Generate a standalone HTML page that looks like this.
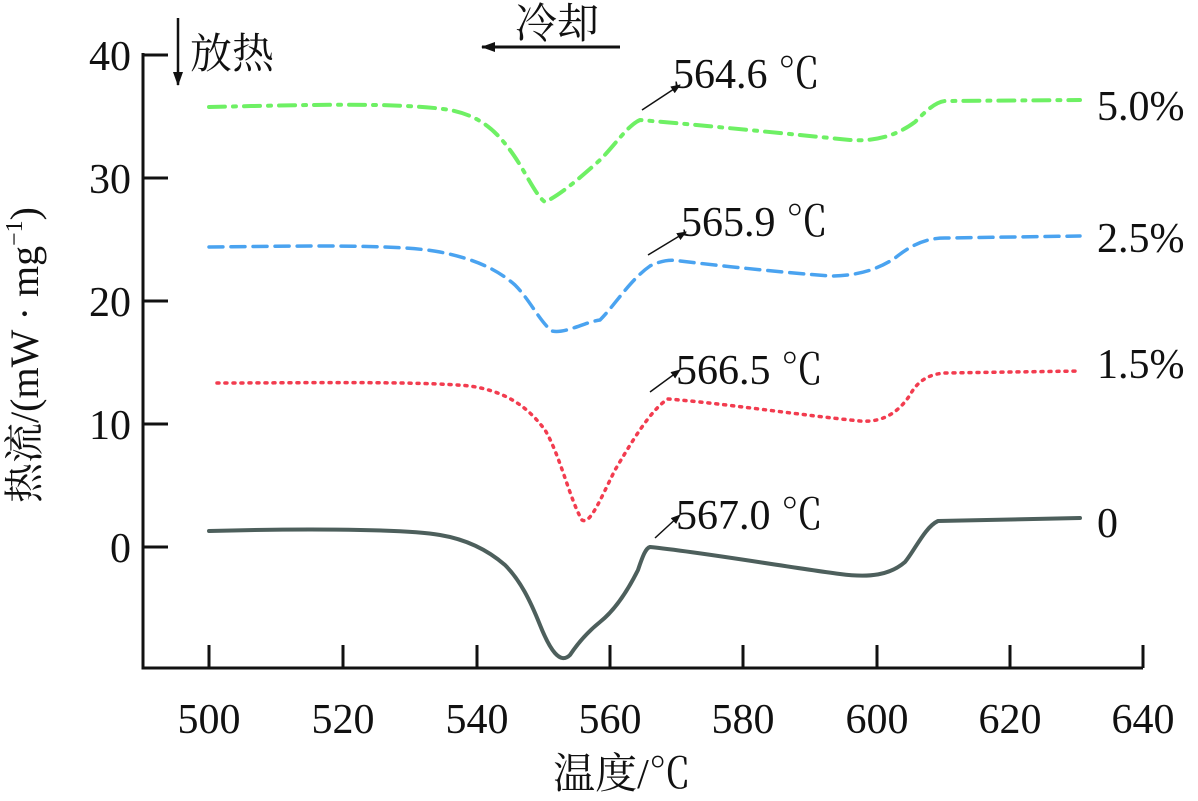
<!DOCTYPE html>
<html><head><meta charset="utf-8"><style>
body{margin:0;background:#fff}
svg text{font-family:"Liberation Serif","Times New Roman","Noto Serif CJK SC",serif;fill:#111}
</style></head><body>
<svg width="1198" height="796" viewBox="0 0 1198 796" xmlns="http://www.w3.org/2000/svg">
<defs><marker id="a" markerWidth="10" markerHeight="8" refX="9" refY="4" orient="auto" markerUnits="userSpaceOnUse"><path d="M0,0L10,4L0,8z" fill="#111"/></marker>
<marker id="b" markerWidth="14" markerHeight="10" refX="13" refY="5" orient="auto" markerUnits="userSpaceOnUse"><path d="M0,0L14,5L0,10z" fill="#111"/></marker></defs>
<g stroke="#111" stroke-width="3" fill="none">
<path d="M143,53V668H1143"/>
<path d="M143,55H168M143,178H168M143,301H168M143,424H168M143,547H168"/>
<path d="M209,668V645M343,668V645M477,668V645M610,668V645M743,668V645M877,668V645M1010,668V645M1143,668V645"/>
</g>
<g font-size="42" text-anchor="end">
<text x="131" y="70">40</text><text x="131" y="193">30</text><text x="131" y="316">20</text><text x="131" y="439">10</text><text x="131" y="562">0</text></g>
<g font-size="42" text-anchor="middle">
<text x="209" y="733">500</text><text x="343" y="733">520</text><text x="477" y="733">540</text><text x="610" y="733">560</text><text x="743" y="733">580</text><text x="877" y="733">600</text><text x="1010" y="733">620</text><text x="1143" y="733">640</text>
<text x="622" y="788">温度/℃</text></g>
<text font-size="40" text-anchor="middle" transform="translate(38,355) rotate(-90)">热流/(mW · mg<tspan font-size="24" dy="-16">−1</tspan><tspan dy="16">)</tspan></text>
<g fill="none" stroke-linejoin="round" stroke-linecap="round">
<path stroke="#4d5f5c" stroke-width="4" d="M209,531 C280,529 400,528 440,535 C470,540 490,552 505,565 C520,580 530,600 540,625 C550,650 560,665 570,655 C580,640 590,630 600,622 C615,610 628,590 638,570 C643,555 646,548 650,547 C700,552 780,566 840,574 C870,578 890,575 905,562 C915,550 925,527 938,521 L1080,518"/>
<path stroke="#f23c4f" stroke-width="3.5" stroke-dasharray="2,6" d="M217,383 C300,383 420,381 470,386 C510,392 530,410 545,430 C560,455 570,500 582,520 C590,525 600,500 615,470 C630,445 650,410 668,399 C720,403 800,415 860,421 C885,423 900,410 910,395 C918,380 930,374 945,373 L1080,371"/>
<path stroke="#4aa3f0" stroke-width="3.5" stroke-dasharray="14,8" d="M209,247 C300,246 400,244 440,252 C480,260 500,272 515,285 C530,300 540,322 552,331 C565,334 585,322 600,320 C615,305 630,280 650,266 C660,261 670,259 680,261 C730,267 790,273 830,276 C860,276 880,268 895,258 C910,246 925,238 945,238 L1080,236"/>
<path stroke="#6ef064" stroke-width="4" stroke-dasharray="16,8,3,8" d="M209,107 C300,105 400,102 450,110 C480,116 495,130 510,150 C525,170 535,195 545,202 C560,195 580,178 600,160 C615,145 628,125 640,120 C700,125 790,134 850,140 C880,142 900,133 915,122 C925,112 935,102 945,101 L1080,100"/>
</g>
<g stroke="#111" stroke-width="1.5">
<line x1="642" y1="110" x2="680" y2="85" marker-end="url(#a)"/>
<line x1="648" y1="255" x2="686" y2="232" marker-end="url(#a)"/>
<line x1="650" y1="392" x2="680" y2="370" marker-end="url(#a)"/>
<line x1="655" y1="538" x2="680" y2="515" marker-end="url(#a)"/>
<line x1="178" y1="18" x2="178" y2="85" stroke-width="2.5" marker-end="url(#b)"/>
<line x1="620" y1="47" x2="482" y2="47" stroke-width="3" marker-end="url(#b)"/>
</g>
<g font-size="42">
<text x="673" y="88">564.6 ℃</text><text x="681" y="236">565.9 ℃</text><text x="676" y="384">566.5 ℃</text><text x="676" y="529">567.0 ℃</text>
<text x="1097" y="120">5.0%</text><text x="1097" y="252">2.5%</text><text x="1097" y="378">1.5%</text><text x="1097" y="537">0</text>
<text x="190" y="68">放热</text><text x="515" y="38">冷却</text></g>
</svg>
</body></html>
